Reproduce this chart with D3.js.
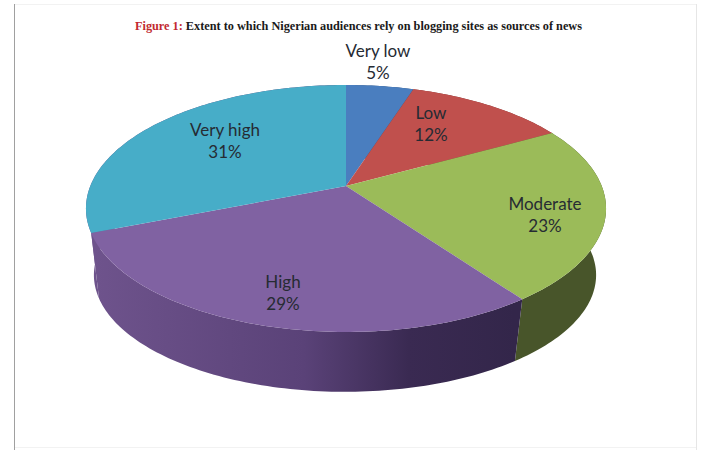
<!DOCTYPE html>
<html>
<head>
<meta charset="utf-8">
<script src="https://cdn.jsdelivr.net/npm/d3@7"></script>
<style>
  html, body { margin: 0; padding: 0; background: #fff; }
  svg { display: block; }
</style>
</head>
<body>
<svg id="chart"></svg>
<script>
// values
const categories = ['Very low', 'Low', 'Moderate', 'High', 'Very high'];
const shares = [5, 12, 23, 29, 31];
const titleLead = 'Figure 1:';
const titleRest = ' Extent to which Nigerian audiences rely on blogging sites as sources of news';

const topColors = ['#4a7ebf', '#c0504d', '#9bbb59', '#8062a2', '#47adc8'];
// the sliver of very high wall on the left edge reads as purple in the picture
const wallColors = ['#2f4f78', '#7a3230', '#48552a', 'url(#purpleWall)', 'url(#purpleWall)'];

// label centres, one per slice
const labelX = [378, 431, 545, 283, 225];
const labelY = [62, 124, 215, 293, 141];

const width = 701;
const height = 450;

// the disc is a circle seen in perspective, so the apex sits above the ellipse centre
const topFace = { x: 346, y: 186, a: 255.7, b: 119.4, k: 0.182 };
const bottomFace = { x: 345, y: 254, a: 247, b: 113, k: 0.18 };

function project(face, angle) {
    const w = 1 + face.k * Math.cos(angle);
    return [face.x + face.a * Math.sin(angle) / w, face.y - face.b * Math.cos(angle) / w];
}

function arcPoints(face, start, end) {
    const steps = Math.max(2, Math.ceil((end - start) / 0.02));
    return d3.range(steps + 1).map(i => project(face, start + (end - start) * i / steps));
}

const svg = d3.select('#chart').attr('width', width).attr('height', height);
const line = d3.line();

svg.append('rect').attr('width', width).attr('height', height).attr('fill', '#fff');

// page frame around the pasted chart
svg.append('line').attr('x1', 14.5).attr('x2', 14.5).attr('y1', 4).attr('y2', height).attr('stroke', '#a0a0a0').attr('stroke-width', 1);
svg.append('line').attr('x1', 15).attr('x2', 696).attr('y1', 4.5).attr('y2', 4.5).attr('stroke', '#f2f2f2').attr('stroke-width', 1);
svg.append('line').attr('x1', 696.5).attr('x2', 696.5).attr('y1', 4).attr('y2', height).attr('stroke', '#e6e6e6').attr('stroke-width', 1);
svg.append('line').attr('x1', 15).attr('x2', 696).attr('y1', 447.5).attr('y2', 447.5).attr('stroke', '#f2f2f2').attr('stroke-width', 1);

// gradient for the long purple wall
const grad = svg.append('defs').append('linearGradient')
    .attr('id', 'purpleWall')
    .attr('gradientUnits', 'userSpaceOnUse')
    .attr('x1', 94).attr('x2', 514).attr('y1', 0).attr('y2', 0);
grad.append('stop').attr('offset', '0%').attr('stop-color', '#6e538c');
grad.append('stop').attr('offset', '50%').attr('stop-color', '#5a4278');
grad.append('stop').attr('offset', '75%').attr('stop-color', '#3a2a52');
grad.append('stop').attr('offset', '100%').attr('stop-color', '#33264a');

const pie = d3.pie().sort(null)(shares);

// walls first, the top face covers whatever is behind it
svg.append('g').selectAll('path')
    .data(pie)
    .join('path')
    .attr('d', d => {
        const upper = arcPoints(topFace, d.startAngle, d.endAngle);
        const lower = arcPoints(bottomFace, d.startAngle, d.endAngle).reverse();
        return line(upper.concat(lower)) + 'Z';
    })
    .attr('fill', (d, i) => wallColors[i]);

svg.append('g').selectAll('path')
    .data(pie)
    .join('path')
    .attr('d', d => line([[topFace.x, topFace.y]].concat(arcPoints(topFace, d.startAngle, d.endAngle))) + 'Z')
    .attr('fill', (d, i) => topColors[i]);

// data labels
const labels = svg.append('g')
    .attr('font-family', 'Lato, sans-serif')
    .attr('font-size', 17)
    .attr('text-anchor', 'middle')
    .attr('fill', '#262b33');

categories.forEach((name, i) => {
    labels.append('text').attr('x', labelX[i]).attr('y', labelY[i] - 5).text(name);
    labels.append('text').attr('x', labelX[i]).attr('y', labelY[i] + 17).text(shares[i] + '%');
});

// title
const title = svg.append('text')
    .attr('x', 135).attr('y', 30)
    .attr('font-family', '"Liberation Serif", serif')
    .attr('font-weight', 'bold')
    .attr('font-size', 12.5)
    .attr('textLength', 447)
    .attr('lengthAdjust', 'spacingAndGlyphs')
    .attr('fill', '#1a1a1a');
title.append('tspan').attr('fill', '#c22a30').text(titleLead);
title.append('tspan').text(titleRest);
</script>
</body>
</html>
